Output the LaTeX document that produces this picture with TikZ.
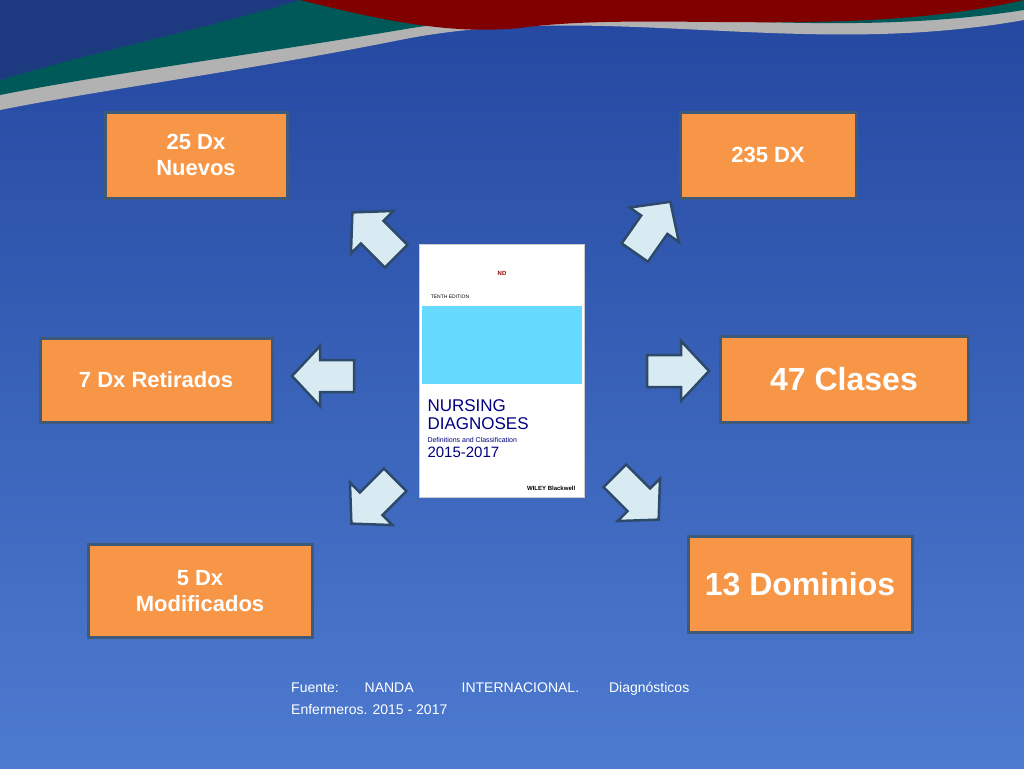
\documentclass[tikz,border=0pt]{standalone}
\usepackage{fontspec}
\setmainfont{Liberation Sans}
\usetikzlibrary{positioning}
\definecolor{boxfill}{HTML}{F79646}
\definecolor{boxline}{HTML}{3F5A78}
\definecolor{arrfill}{HTML}{D8EBF2}
\definecolor{arrline}{HTML}{2E4A6A}
\definecolor{bgtop}{HTML}{2447A0}
\definecolor{bgbot}{HTML}{4D7BD0}
\tikzset{
  dxbox/.style={draw=boxline, line width=3pt, fill=boxfill, text=white,
    font=\bfseries\fontsize{22}{26}\selectfont, align=center, inner sep=0pt},
  bigbox/.style={dxbox, font=\bfseries\fontsize{32}{38}\selectfont},
  blockarr/.style={draw=arrline, line width=2.5pt, fill=arrfill, line join=miter}
}
\newcommand{\blockarrow}[2]{%
  \begin{scope}[shift={#1}, rotate=#2]
    \draw[blockarr] (-30,-16)--(4,-16)--(4,-30)--(32,0)--(4,30)--(4,16)--(-30,16)--cycle;
  \end{scope}}
\begin{document}
\begin{tikzpicture}[x=1pt,y=-1pt]
\useasboundingbox (0,0) rectangle (1024,768);
% background
\shade[top color=bgtop, bottom color=bgbot] (0,0) rectangle (1024,768);
% top waves
\fill[gray!60] (0,0) -- (1024,0) -- (1024,20) .. controls (800,60) and (600,0) .. (400,40) .. controls (250,70) and (100,90) .. (0,110) -- cycle;
\fill[teal!70!black] (0,0) -- (1024,0) -- (1024,10) .. controls (800,45) and (600,-5) .. (400,30) .. controls (250,55) and (100,75) .. (0,95) -- cycle;
\fill[red!50!black] (300,0) -- (1024,0) .. controls (850,40) and (650,10) .. (520,28) .. controls (450,35) and (380,20) .. (300,0) -- cycle;
\fill[bgtop!80!black] (0,0) -- (300,0) .. controls (200,30) and (100,50) .. (0,80) -- cycle;
% boxes
\node[dxbox, minimum width=182pt, minimum height=86pt] (nuevos) at (196,155) {25 Dx\\Nuevos};
\node[dxbox, minimum width=176pt, minimum height=86pt] (total) at (768,155) {235 DX};
\node[dxbox, minimum width=232pt, minimum height=84pt] (retirados) at (156,380) {7 Dx Retirados};
\node[bigbox, minimum width=248pt, minimum height=86pt] (clases) at (844,379) {47 Clases};
\node[dxbox, minimum width=224pt, minimum height=93pt] (modif) at (200,591) {5 Dx\\Modificados};
\node[bigbox, minimum width=224pt, minimum height=96pt] (dominios) at (800,584) {13 Dominios};
% book
\node[draw=gray!40, fill=white, minimum width=165pt, minimum height=253pt, inner sep=0pt] (book) at (502,371) {};
\fill[blue!25!cyan!60!white] ([xshift=3pt,yshift=-62pt]book.north west) rectangle ([xshift=-3pt,yshift=-140pt]book.north east);
\node[font=\tiny, anchor=west] at ([xshift=8pt,yshift=-52pt]book.north west) {TENTH EDITION};
\node[font=\bfseries\fontsize{6}{7}\selectfont, text=red!60!black, anchor=south] at ([yshift=-35pt]book.north) {ND};
\node[font=\fontsize{17}{18}\selectfont, text=blue!50!black, anchor=north west, align=left, inner sep=0pt]
  at ([xshift=8pt,yshift=-155pt]book.north west) {NURSING\\DIAGNOSES};
\node[font=\fontsize{7}{8}\selectfont, text=blue!50!black, anchor=north west, inner sep=0pt]
  at ([xshift=8pt,yshift=-193pt]book.north west) {Definitions and Classification};
\node[font=\fontsize{15}{16}\selectfont, text=blue!50!black, anchor=north west, inner sep=0pt]
  at ([xshift=8pt,yshift=-203pt]book.north west) {2015-2017};
\node[font=\bfseries\fontsize{6}{7}\selectfont, anchor=south east] at ([xshift=-6pt,yshift=4pt]book.south east) {WILEY Blackwell};
% arrows
\blockarrow{(375,235)}{135}
\blockarrow{(652,228)}{55}
\blockarrow{(324,376)}{180}
\blockarrow{(677,371)}{0}
\blockarrow{(374,501)}{-135}
\blockarrow{(636,497)}{-45}
% source
\node[text=white, font=\fontsize{14}{22}\selectfont, anchor=north west, align=left, inner sep=0pt] (fuente) at (291,682)
  {Fuente:\hspace{26pt}NANDA\hspace{48pt}INTERNACIONAL.\hspace{30pt}Diagnósticos\\Enfermeros. 2015 - 2017};
\end{tikzpicture}
\end{document}
